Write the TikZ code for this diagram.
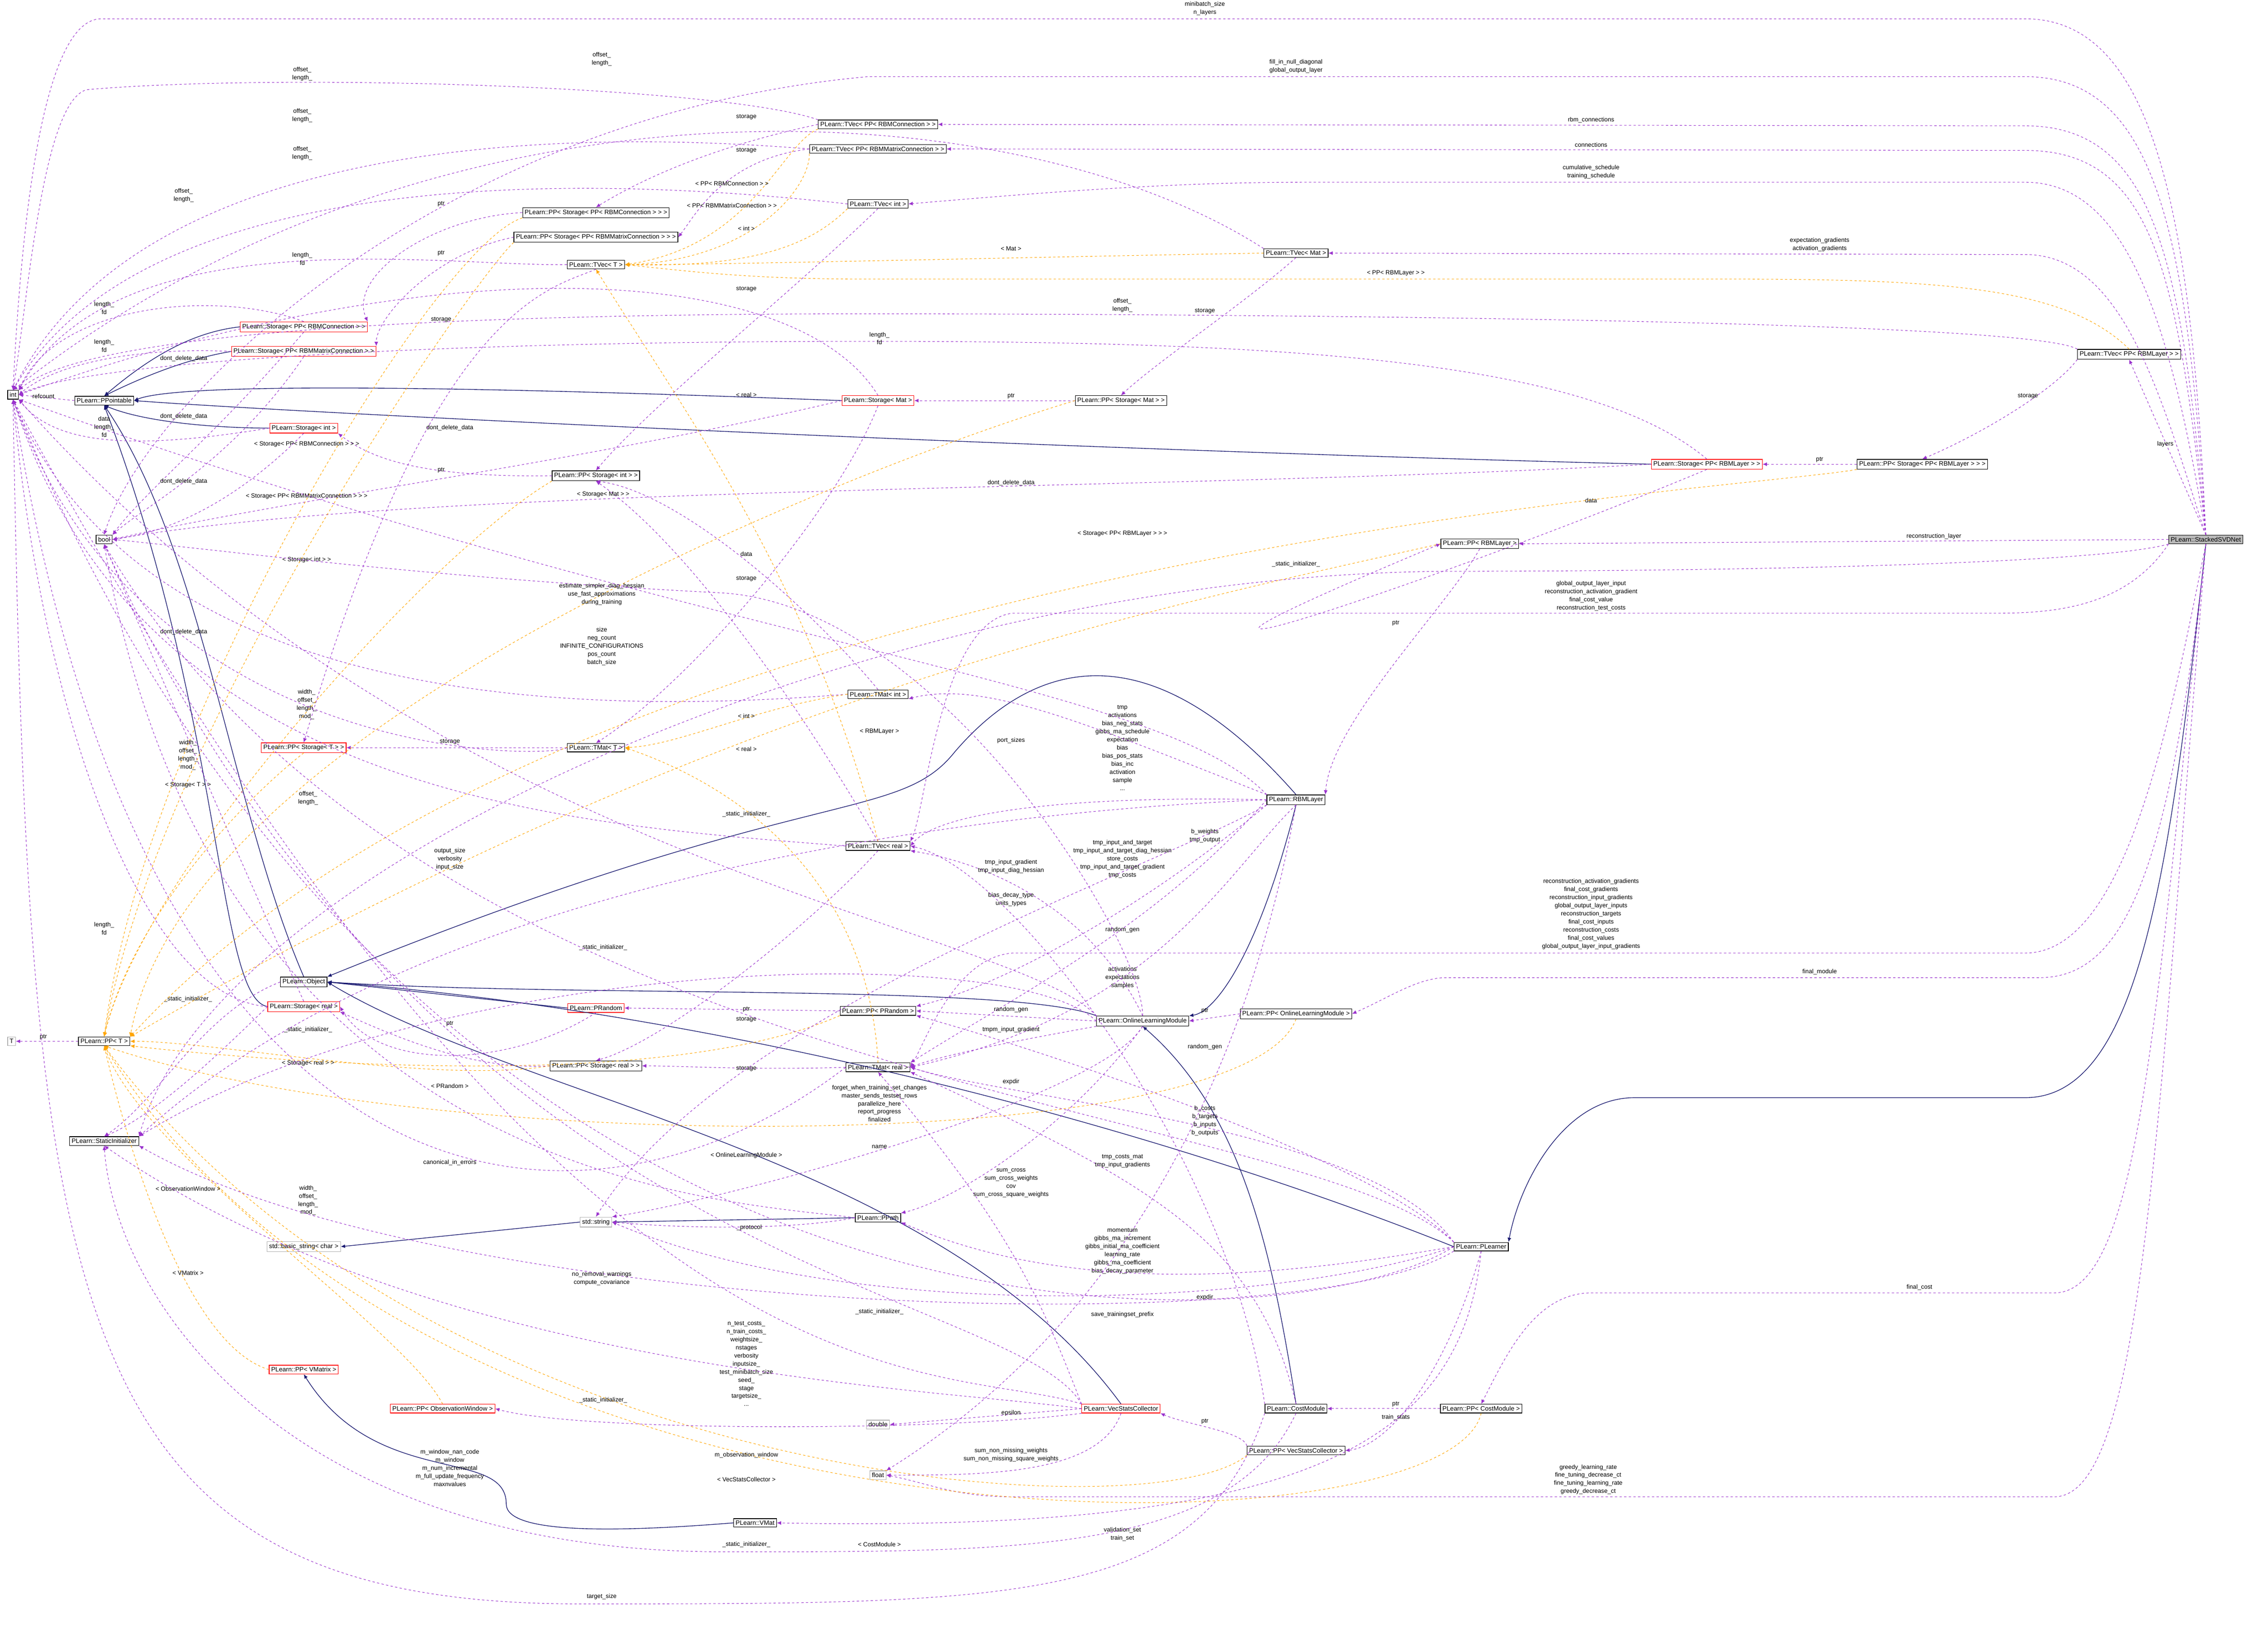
\documentclass[tikz,border=0pt]{standalone}
\usepackage{fontspec}
\setmainfont{Liberation Sans}
\usetikzlibrary{arrows.meta}
\definecolor{usecol}{HTML}{9A32CD}
\definecolor{inhcol}{HTML}{191970}
\definecolor{tplcol}{HTML}{FFA500}
\tikzset{
  cls/.style={draw=black, fill=white, inner sep=1.4pt, font=\fontsize{4.4}{5}\selectfont},
  redcls/.style={cls, draw=red},
  extcls/.style={cls, draw=gray!60},
  maincls/.style={cls, fill=gray!55},
  use/.style={usecol, dash pattern=on 1.6pt off 1.6pt, line width=0.35pt, -{Latex[length=3pt,width=2.6pt]}},
  inh/.style={inhcol, line width=0.45pt, -{Latex[length=3pt,width=2.6pt]}},
  tpl/.style={tplcol, dash pattern=on 1.6pt off 1.6pt, line width=0.35pt, -{Latex[length=3pt,width=2.6pt]}},
  lbl/.style={text=black, font=\fontsize{4.2}{5.6}\selectfont, align=center, inner sep=0.5pt}
}
\begin{document}
\begin{tikzpicture}[x=1pt, y=-1pt]
\useasboundingbox (0,0) rectangle (1568,1127);

%%%%%%%%%%%%%%%%%%%%%%%%%%%%%%%% classes
\node[cls] (int) at (9,273) {int};
\node[cls] (ppointable) at (72,277) {PLearn::PPointable};
\node[cls] (bool) at (72,373) {bool};
\node[extcls] (T) at (8,720) {T};
\node[cls] (ppT) at (72,720) {PLearn::PP< T >};
\node[cls] (statinit) at (72,789) {PLearn::StaticInitializer};
\node[cls] (object) at (210,679) {PLearn::Object};
\node[redcls] (storreal) at (210,696) {PLearn::Storage< real >};
\node[redcls] (prandom) at (412,697) {PLearn::PRandom};
\node[cls] (ppprandom) at (607,699) {PLearn::PP< PRandom >};
\node[cls] (olm) at (790,706) {PLearn::OnlineLearningModule};
\node[cls] (ppolm) at (896,701) {PLearn::PP< OnlineLearningModule >};
\node[cls] (ppstorreal) at (412,737) {PLearn::PP< Storage< real > >};
\node[cls] (tmatreal) at (607,738) {PLearn::TMat< real >};
\node[cls] (tvecreal) at (607,585) {PLearn::TVec< real >};
\node[cls] (tmatint) at (607,480) {PLearn::TMat< int >};
\node[cls] (rbmlayer) at (896,553) {PLearn::RBMLayer};
\node[cls] (tmatT) at (412,517) {PLearn::TMat< T >};
\node[redcls] (ppstorT) at (210,517) {PLearn::PP< Storage< T > >};
\node[redcls] (storint) at (210,296) {PLearn::Storage< int >};
\node[redcls] (storrbmc) at (210,226) {PLearn::Storage< PP< RBMConnection > >};
\node[redcls] (storrbmmc) at (210,243) {PLearn::Storage< PP< RBMMatrixConnection > >};
\node[cls] (tvecT) at (412,183) {PLearn::TVec< T >};
\node[cls] (ppstorrbmc) at (412,147) {PLearn::PP< Storage< PP< RBMConnection > > >};
\node[cls] (ppstorrbmmc) at (412,164) {PLearn::PP< Storage< PP< RBMMatrixConnection > > >};
\node[cls] (tvecrbmc) at (607,86) {PLearn::TVec< PP< RBMConnection > >};
\node[cls] (tvecrbmmc) at (607,103) {PLearn::TVec< PP< RBMMatrixConnection > >};
\node[cls] (tvecint) at (607,141) {PLearn::TVec< int >};
\node[cls] (ppstorint) at (412,329) {PLearn::PP< Storage< int > >};
\node[redcls] (stormat) at (607,277) {PLearn::Storage< Mat >};
\node[cls] (ppstormat) at (775,277) {PLearn::PP< Storage< Mat > >};
\node[cls] (tvecmat) at (896,175) {PLearn::TVec< Mat >};
\node[cls] (tvecrbml) at (1472,245) {PLearn::TVec< PP< RBMLayer > >};
\node[redcls] (storrbml) at (1180,321) {PLearn::Storage< PP< RBMLayer > >};
\node[cls] (ppstorrbml) at (1329,321) {PLearn::PP< Storage< PP< RBMLayer > > >};
\node[cls] (pprbml) at (1023,376) {PLearn::PP< RBMLayer >};
\node[maincls] (ssvd) at (1525,373) {PLearn::StackedSVDNet};
\node[cls] (plearner) at (1024,862) {PLearn::PLearner};
\node[cls] (costmod) at (896,974) {PLearn::CostModule};
\node[cls] (ppcost) at (1024,974) {PLearn::PP< CostModule >};
\node[cls] (ppvsc) at (896,1003) {PLearn::PP< VecStatsCollector >};
\node[redcls] (vsc) at (775,974) {PLearn::VecStatsCollector};
\node[extcls] (double) at (607,985) {double};
\node[extcls] (float) at (607,1020) {float};
\node[cls] (ppath) at (607,842) {PLearn::PPath};
\node[extcls] (string) at (412,845) {std::string};
\node[extcls] (bstring) at (210,862) {std::basic\_string< char >};
\node[redcls] (ppvmat) at (210,947) {PLearn::PP< VMatrix >};
\node[redcls] (ppobswin) at (306,974) {PLearn::PP< ObservationWindow >};
\node[cls] (vmat) at (522,1053) {PLearn::VMat};

%%%%%%%%%%%%%%%%%%%%%%%%%%%%%%%% inheritance
\draw[inh] (storrbmc.west) .. controls (130,230) and (100,250) .. (ppointable.north);
\draw[inh] (storrbmmc.west) .. controls (130,248) and (100,260) .. (ppointable.north);
\draw[inh] (storint.west) .. controls (150,296) and (100,292) .. (ppointable.south);
\draw[inh] (stormat.west) .. controls (400,270) and (130,262) .. (ppointable.east);
\draw[inh] (storrbml.west) .. controls (700,310) and (200,285) .. (ppointable.east);
\draw[inh] (object.north) .. controls (160,560) and (140,380) .. (ppointable.south);
\draw[inh] (storreal.west) .. controls (150,690) and (155,500) .. (ppointable.south);
\draw[inh] (prandom.west) -- (object.east);
\draw[inh] (olm.north west) .. controls (700,680) and (400,690) .. (object.east);
\draw[inh] (plearner.west) .. controls (800,780) and (500,700) .. (object.east);
\draw[inh] (vsc.north) .. controls (650,800) and (360,760) .. (object.east);
\draw[inh] (rbmlayer.south) .. controls (870,660) and (840,700) .. (olm.north east);
\draw[inh] (costmod.north) .. controls (880,870) and (860,770) .. (olm.south);
\draw[inh] (ppath.west) -- (string.east);
\draw[inh] (string.west) -- (bstring.east);
\draw[inh] (vmat.west) .. controls (420,1060) and (350,1060) .. (350,1040) .. controls (350,1000) and (260,1030) .. (ppvmat.south);
\draw[inh] (ssvd.south) .. controls (1500,600) and (1480,759) .. (1400,759) -- (1130,759) .. controls (1080,759) and (1050,820) .. (plearner.north east);
\draw[inh] (rbmlayer.north) .. controls (800,440) and (720,450) .. (660,520) .. controls (620,570) and (560,540) .. (object.north east);

%%%%%%%%%%%%%%%%%%%%%%%%%%%%%%%% members of StackedSVDNet
\draw[use] (ssvd.north) .. controls (1515,150) and (1490,13) .. (1400,13) -- (70,13) .. controls (30,13) and (15,150) .. (int.north);
\node[lbl] at (833,6) {minibatch\_size\\n\_layers};
\draw[use] (ssvd.north) .. controls (1512,160) and (1490,53) .. (1400,53) -- (600,53) .. controls (300,80) and (100,280) .. (bool.north);
\node[lbl] at (896,46) {fill\_in\_null\_diagonal\\global\_output\_layer};
\draw[use] (ssvd.north) .. controls (1508,180) and (1490,87) .. (1400,87) -- (tvecrbmc.east);
\node[lbl] at (1100,83) {rbm\_connections};
\draw[use] (ssvd.north) .. controls (1505,190) and (1490,104) .. (1400,104) -- (tvecrbmmc.east);
\node[lbl] at (1100,100) {connections};
\draw[use] (ssvd.north) .. controls (1500,220) and (1470,126) .. (1400,126) -- (900,126) .. controls (800,126) and (700,135) .. (tvecint.east);
\node[lbl] at (1100,119) {cumulative\_schedule\\training\_schedule};
\draw[use] (ssvd.north) .. controls (1495,280) and (1470,176) .. (1400,176) -- (tvecmat.east);
\node[lbl] at (1258,169) {expectation\_gradients\\activation\_gradients};
\draw[use] (ssvd.north) -- (tvecrbml.south);
\node[lbl] at (1497,307) {layers};
\draw[use] (ssvd.west) -- (pprbml.east);
\node[lbl] at (1337,371) {reconstruction\_layer};
\draw[use] (ssvd.south west) .. controls (1470,420) and (1420,424) .. (1380,424) -- (700,424) .. controls (650,430) and (640,560) .. (tvecreal.north east);
\node[lbl] at (1100,412) {global\_output\_layer\_input\\reconstruction\_activation\_gradient\\final\_cost\_value\\reconstruction\_test\_costs};
\draw[use] (ssvd.south) .. controls (1500,500) and (1470,659) .. (1400,659) -- (700,659) .. controls (660,662) and (640,720) .. (tmatreal.east);
\node[lbl] at (1100,632) {reconstruction\_activation\_gradients\\final\_cost\_gradients\\reconstruction\_input\_gradients\\global\_output\_layer\_inputs\\reconstruction\_targets\\final\_cost\_inputs\\reconstruction\_costs\\final\_cost\_values\\global\_output\_layer\_input\_gradients};
\draw[use] (ssvd.south) .. controls (1500,600) and (1470,676) .. (1410,676) -- (1000,676) .. controls (980,676) and (960,690) .. (ppolm.east);
\node[lbl] at (1258,672) {final\_module};
\draw[use] (ssvd.south) .. controls (1490,700) and (1480,894) .. (1420,894) -- (1100,894) .. controls (1060,894) and (1040,940) .. (ppcost.north);
\node[lbl] at (1327,890) {final\_cost};
\draw[use] (ssvd.south) .. controls (1490,800) and (1480,1035) .. (1420,1035) -- (700,1035) .. controls (660,1035) and (640,1025) .. (float.east);
\node[lbl] at (1098,1023) {greedy\_learning\_rate\\fine\_tuning\_decrease\_ct\\fine\_tuning\_learning\_rate\\greedy\_decrease\_ct};
\draw[use] (ssvd.south west) .. controls (1450,390) and (1200,395) .. (1000,395) .. controls (600,398) and (150,600) .. (statinit.north east);
\node[lbl] at (896,390) {\_static\_initializer\_};

%%%%%%%%%%%%%%%%%%%%%%%%%%%%%%%% storage and vectors
\draw[use] (ppointable.west) -- (int.east);
\node[lbl] at (30,274) {refcount};
\draw[use] (storrbmc.north) .. controls (150,200) and (40,210) .. (int.north east);
\node[lbl] at (72,213) {length\_\\fd};
\draw[use] (storrbmmc.west) .. controls (100,240) and (40,250) .. (int.east);
\node[lbl] at (72,239) {length\_\\fd};
\draw[use] (storint.west) .. controls (100,310) and (40,310) .. (int.south east);
\node[lbl] at (72,295) {data\\length\_\\fd};
\draw[use] (storrbmc.south) .. controls (150,300) and (100,340) .. (bool.north east);
\node[lbl] at (127,248) {dont\_delete\_data};
\draw[use] (storrbmmc.south) .. controls (160,320) and (100,350) .. (bool.north east);
\node[lbl] at (127,288) {dont\_delete\_data};
\draw[use] (storint.south) .. controls (150,360) and (100,370) .. (bool.east);
\node[lbl] at (127,333) {dont\_delete\_data};
\draw[use] (stormat.west) .. controls (400,320) and (200,345) .. (bool.east);
\node[lbl] at (311,296) {dont\_delete\_data};
\draw[use] (storrbml.west) .. controls (800,340) and (300,335) .. (bool.east);
\node[lbl] at (699,334) {dont\_delete\_data};
\draw[use] (storreal.north) .. controls (150,560) and (100,440) .. (bool.south);
\node[lbl] at (127,437) {dont\_delete\_data};
\draw[use] (ppstorrbmc.west) .. controls (300,150) and (240,190) .. (storrbmc.north east);
\node[lbl] at (305,141) {ptr};
\draw[use] (ppstorrbmmc.west) .. controls (300,175) and (260,220) .. (storrbmmc.north east);
\node[lbl] at (305,175) {ptr};
\draw[use] (ppstorint.west) .. controls (300,330) and (260,320) .. (storint.south east);
\node[lbl] at (305,325) {ptr};
\draw[use] (ppstormat.west) -- (stormat.east);
\node[lbl] at (699,274) {ptr};
\draw[use] (ppstorrbml.west) -- (storrbml.east);
\node[lbl] at (1258,318) {ptr};
\draw[use] (ppstorreal.west) .. controls (330,740) and (280,720) .. (storreal.south east);
\node[lbl] at (311,708) {ptr};
\draw[use] (prandom.south) .. controls (350,740) and (260,740) .. (storreal.east);
\draw[use] (tmatT.west) -- (ppstorT.east);
\node[lbl] at (311,513) {storage};
\draw[use] (tvecrbmc.west) .. controls (500,100) and (450,120) .. (ppstorrbmc.north);
\node[lbl] at (516,81) {storage};
\draw[use] (tvecrbmmc.west) .. controls (500,110) and (480,150) .. (ppstorrbmmc.east);
\node[lbl] at (516,104) {storage};
\draw[use] (tvecint.south) .. controls (550,200) and (450,280) .. (ppstorint.north);
\node[lbl] at (516,200) {storage};
\draw[use] (tvecT.south) .. controls (380,200) and (300,210) .. (ppstorT.north);
\node[lbl] at (305,221) {storage};
\draw[use] (tvecmat.south) .. controls (860,210) and (800,250) .. (ppstormat.north);
\node[lbl] at (833,215) {storage};
\draw[use] (tvecrbml.south west) .. controls (1420,270) and (1370,300) .. (ppstorrbml.north);
\node[lbl] at (1402,274) {storage};
\draw[use] (tvecreal.north) .. controls (560,500) and (480,380) .. (ppstorint.south);
\node[lbl] at (516,400) {storage};
\draw[use] (tmatint.north) .. controls (560,420) and (470,340) .. (ppstorint.south);
\draw[use] (tmatreal.west) .. controls (520,740) and (470,737) .. (ppstorreal.east);
\node[lbl] at (516,739) {storage};
\draw[use] (tvecreal.south) .. controls (560,640) and (460,720) .. (ppstorreal.north);
\node[lbl] at (516,705) {storage};
\draw[use] (storrbml.south) .. controls (1000,400) and (700,500) .. (pprbml.west);
\node[lbl] at (1100,346) {data};
\draw[use] (stormat.south) .. controls (580,350) and (480,470) .. (tmatT.north);
\node[lbl] at (516,383) {data};
\node[lbl] at (516,698) {ptr};

\draw[use] (tvecrbmc.north west) .. controls (500,60) and (200,50) .. (60,62) .. controls (30,70) and (20,200) .. (int.north);
\node[lbl] at (209,51) {offset\_\\length\_};
\draw[use] (tvecrbmmc.west) .. controls (400,90) and (100,90) .. (int.north);
\node[lbl] at (209,80) {offset\_\\length\_};
\draw[use] (tvecint.west) .. controls (400,120) and (100,115) .. (int.north);
\node[lbl] at (209,106) {offset\_\\length\_};
\draw[use] (tvecT.west) .. controls (300,184) and (80,150) .. (int.north east);
\node[lbl] at (127,135) {offset\_\\length\_};
\draw[use] (tvecmat.north west) .. controls (700,60) and (300,40) .. (int.north);
\node[lbl] at (416,41) {offset\_\\length\_};
\draw[use] (tvecrbml.north west) .. controls (1400,220) and (800,217) .. (600,217) .. controls (300,217) and (60,230) .. (int.north east);
\node[lbl] at (776,211) {offset\_\\length\_};
\draw[use] (storrbml.north) .. controls (1100,250) and (900,236) .. (600,236) .. controls (300,236) and (60,250) .. (int.east);
\node[lbl] at (608,234) {length\_\\fd};
\draw[use] (stormat.north) .. controls (550,180) and (300,170) .. (int.east);
\node[lbl] at (209,179) {length\_\\fd};
\draw[use] (tmatint.west) .. controls (400,495) and (100,490) .. (int.south);
\node[lbl] at (212,487) {width\_\\offset\_\\length\_\\mod\_};
\draw[use] (tmatT.west) .. controls (380,525) and (100,530) .. (int.south);
\node[lbl] at (130,522) {width\_\\offset\_\\length\_\\mod\_};
\draw[use] (tvecreal.west) .. controls (400,570) and (100,555) .. (int.south);
\node[lbl] at (213,552) {offset\_\\length\_};
\draw[use] (storreal.west) .. controls (100,690) and (30,500) .. (int.south);
\node[lbl] at (72,642) {length\_\\fd};
\draw[use] (tmatreal.west) .. controls (400,880) and (100,850) .. (int.south);
\node[lbl] at (213,830) {width\_\\offset\_\\length\_\\mod\_};
\draw[use] (ppT.west) -- (T.east);
\node[lbl] at (30,717) {ptr};
\draw[use] (object.west) .. controls (140,700) and (110,760) .. (statinit.north);
\node[lbl] at (130,691) {\_static\_initializer\_};
\draw[use] (storreal.west) .. controls (160,720) and (110,770) .. (statinit.north);
\node[lbl] at (213,712) {\_static\_initializer\_};

%%%%%%%%%%%%%%%%%%%%%%%%%%%%%%%% templates
\draw[tpl] (tvecrbmc.south west) .. controls (540,100) and (520,170) .. (tvecT.east);
\node[lbl] at (506,127) {< PP< RBMConnection > >};
\draw[tpl] (tvecrbmmc.south west) .. controls (560,130) and (520,180) .. (tvecT.east);
\node[lbl] at (506,142) {< PP< RBMMatrixConnection > >};
\draw[tpl] (tvecint.south west) .. controls (560,170) and (520,185) .. (tvecT.east);
\node[lbl] at (516,158) {< int >};
\draw[tpl] (tvecmat.west) .. controls (700,178) and (500,183) .. (tvecT.east);
\node[lbl] at (699,172) {< Mat >};
\draw[tpl] (tvecrbml.north) .. controls (1430,200) and (1350,193) .. (1200,193) -- (600,193) .. controls (520,193) and (480,188) .. (tvecT.east);
\node[lbl] at (965,189) {< PP< RBMLayer > >};
\draw[tpl] (tvecreal.north) .. controls (560,400) and (470,280) .. (tvecT.south);
\node[lbl] at (516,273) {< real >};
\draw[tpl] (tmatint.west) .. controls (520,490) and (470,515) .. (tmatT.east);
\node[lbl] at (516,495) {< int >};
\draw[tpl] (tmatreal.north) .. controls (600,600) and (500,540) .. (tmatT.east);
\node[lbl] at (516,518) {< real >};
\draw[tpl] (ppstorrbmc.south west) .. controls (300,170) and (100,500) .. (ppT.north);
\node[lbl] at (212,307) {< Storage< PP< RBMConnection > > >};
\draw[tpl] (ppstorrbmmc.south west) .. controls (330,190) and (110,500) .. (ppT.north);
\node[lbl] at (212,343) {< Storage< PP< RBMMatrixConnection > > >};
\draw[tpl] (ppstorint.south west) .. controls (300,380) and (100,600) .. (ppT.north);
\node[lbl] at (212,387) {< Storage< int > >};
\draw[tpl] (ppstormat.west) .. controls (600,320) and (130,500) .. (ppT.north east);
\node[lbl] at (417,342) {< Storage< Mat > >};
\draw[tpl] (ppstorrbml.south west) .. controls (1200,340) and (400,380) .. (ppT.north east);
\node[lbl] at (776,369) {< Storage< PP< RBMLayer > > >};
\draw[tpl] (ppstorT.south) .. controls (160,560) and (90,640) .. (ppT.north);
\node[lbl] at (130,543) {< Storage< T > >};
\draw[tpl] (ppstorreal.west) .. controls (300,750) and (150,720) .. (ppT.east);
\node[lbl] at (213,735) {< Storage< real > >};
\draw[tpl] (ppprandom.south west) .. controls (450,760) and (150,730) .. (ppT.south east);
\node[lbl] at (311,751) {< PRandom >};
\draw[tpl] (ppolm.south) .. controls (860,800) and (300,800) .. (ppT.south);
\node[lbl] at (516,799) {< OnlineLearningModule >};
\draw[tpl] (pprbml.west) .. controls (800,420) and (500,480) .. (ppT.north east);
\node[lbl] at (608,506) {< RBMLayer >};
\draw[tpl] (ppobswin.north) .. controls (280,920) and (100,800) .. (ppT.south);
\node[lbl] at (130,822) {< ObservationWindow >};
\draw[tpl] (ppvmat.west) .. controls (130,930) and (90,800) .. (ppT.south);
\node[lbl] at (130,880) {< VMatrix >};
\draw[tpl] (ppvsc.south west) .. controls (800,1060) and (300,1030) .. (ppT.south);
\node[lbl] at (516,1023) {< VecStatsCollector >};
\draw[tpl] (ppcost.south) .. controls (1000,1080) and (300,1090) .. (ppT.south);
\node[lbl] at (608,1068) {< CostModule >};

%%%%%%%%%%%%%%%%%%%%%%%%%%%%%%%% pointers to classes
\draw[use] (ppprandom.west) -- (prandom.east);
\draw[use] (ppolm.west) -- (olm.east);
\node[lbl] at (833,699) {ptr};
\draw[use] (pprbml.south) .. controls (1000,420) and (920,500) .. (rbmlayer.north east);
\node[lbl] at (965,431) {ptr};
\draw[use] (ppcost.west) -- (costmod.east);
\node[lbl] at (965,971) {ptr};
\draw[use] (ppvsc.north west) .. controls (860,990) and (820,985) .. (vsc.south east);
\node[lbl] at (833,983) {ptr};

%%%%%%%%%%%%%%%%%%%%%%%%%%%%%%%% RBMLayer and OnlineLearningModule
\draw[use] (rbmlayer.west) .. controls (750,550) and (650,560) .. (tvecreal.east);
\node[lbl] at (776,517) {tmp\\activations\\bias\_neg\_stats\\gibbs\_ma\_schedule\\expectation\\bias\\bias\_pos\_stats\\bias\_inc\\activation\\sample\\...};
\draw[use] (rbmlayer.south) .. controls (850,600) and (800,700) .. (tmatreal.east);
\node[lbl] at (833,578) {b\_weights\\tmp\_output};
\draw[use] (rbmlayer.north west) .. controls (750,500) and (680,470) .. (tmatint.south east);
\node[lbl] at (699,512) {port\_sizes};
\draw[use] (rbmlayer.south west) .. controls (800,600) and (500,700) .. (string.north);
\node[lbl] at (699,622) {bias\_decay\_type\\units\_types};
\draw[use] (rbmlayer.south) .. controls (870,700) and (800,900) .. (float.north east);
\node[lbl] at (776,865) {momentum\\gibbs\_ma\_increment\\gibbs\_initial\_ma\_coefficient\\learning\_rate\\gibbs\_ma\_coefficient\\bias\_decay\_parameter};
\draw[use] (rbmlayer.south west) .. controls (800,620) and (700,680) .. (ppprandom.north east);
\node[lbl] at (776,643) {random\_gen};
\draw[use] (rbmlayer.west) .. controls (800,640) and (700,690) .. (tmatreal.north east);
\node[lbl] at (776,676) {activations\\expectations\\samples};
\draw[use] (costmod.north west) .. controls (850,800) and (700,600) .. (tvecreal.east);
\node[lbl] at (776,594) {tmp\_input\_and\_target\\tmp\_input\_and\_target\_diag\_hessian\\store\_costs\\tmp\_input\_and\_target\_gradient\\tmp\_costs};
\draw[use] (olm.west) -- (ppprandom.east);
\node[lbl] at (699,698) {random\_gen};
\draw[use] (olm.north) .. controls (760,640) and (700,600) .. (tvecreal.south east);
\node[lbl] at (699,599) {tmp\_input\_gradient\\tmp\_input\_diag\_hessian};
\draw[use] (olm.south west) .. controls (700,720) and (650,730) .. (tmatreal.east);
\node[lbl] at (699,712) {tmpm\_input\_gradient};
\draw[use] (olm.north) .. controls (790,650) and (650,420) .. (500,410) .. controls (300,400) and (150,380) .. (bool.east);
\node[lbl] at (416,411) {estimate\_simpler\_diag\_hessian\\use\_fast\_approximations\\during\_training};
\draw[use] (rbmlayer.north west) .. controls (800,470) and (500,450) .. (int.south east);
\node[lbl] at (416,447) {size\\neg\_count\\INFINITE\_CONFIGURATIONS\\pos\_count\\batch\_size};
\draw[use] (olm.north west) .. controls (700,640) and (300,600) .. (int.south east);
\node[lbl] at (311,594) {output\_size\\verbosity\\input\_size};
\draw[use] (olm.south) .. controls (760,760) and (500,830) .. (string.north east);
\node[lbl] at (608,793) {name};
\draw[use] (olm.south) .. controls (740,780) and (660,830) .. (ppath.north east);
\node[lbl] at (699,748) {expdir};
\draw[use] (olm.west) .. controls (700,650) and (300,660) .. (statinit.north east);
\node[lbl] at (417,655) {\_static\_initializer\_};
\draw[use] (rbmlayer.west) .. controls (700,560) and (300,600) .. (statinit.north east);
\node[lbl] at (516,563) {\_static\_initializer\_};
\draw[use] (costmod.north) .. controls (870,860) and (800,820) .. (tmatreal.south east);
\node[lbl] at (776,803) {tmp\_costs\_mat\\tmp\_input\_gradients};

%%%%%%%%%%%%%%%%%%%%%%%%%%%%%%%% PLearner
\draw[use] (plearner.west) .. controls (900,880) and (750,900) .. (ppath.south east);
\node[lbl] at (833,897) {expdir};
\draw[use] (plearner.north west) .. controls (950,800) and (700,720) .. (ppprandom.south east);
\node[lbl] at (833,724) {random\_gen};
\draw[use] (plearner.north west) .. controls (950,780) and (700,760) .. (tmatreal.east);
\node[lbl] at (833,775) {b\_costs\\b\_targets\\b\_inputs\\b\_outputs};
\draw[use] (plearner.south) .. controls (1000,950) and (960,1000) .. (ppvsc.east);
\node[lbl] at (965,980) {train\_stats};
\draw[use] (plearner.south) .. controls (1010,1000) and (900,1060) .. (vmat.east);
\node[lbl] at (776,1061) {validation\_set\\train\_set};
\draw[use] (plearner.west) .. controls (900,900) and (600,920) .. (string.east);
\node[lbl] at (776,909) {save\_trainingset\_prefix};
\draw[use] (plearner.north west) .. controls (900,760) and (300,760) .. (bool.south);
\node[lbl] at (608,763) {forget\_when\_training\_set\_changes\\master\_sends\_testset\_rows\\parallelize\_here\\report\_progress\\finalized};
\draw[use] (plearner.west) .. controls (900,930) and (300,980) .. (int.south);
\node[lbl] at (516,943) {n\_test\_costs\_\\n\_train\_costs\_\\weightsize\_\\nstages\\verbosity\\inputsize\_\\test\_minibatch\_size\\seed\_\\stage\\targetsize\_\\...};
\draw[use] (plearner.south west) .. controls (900,930) and (300,910) .. (statinit.south east);
\node[lbl] at (608,907) {\_static\_initializer\_};

%%%%%%%%%%%%%%%%%%%%%%%%%%%%%%%% VecStatsCollector and PPath
\draw[use] (vsc.west) -- (double.east);
\node[lbl] at (699,977) {epsilon};
\draw[use] (vsc.south) .. controls (760,1020) and (680,1020) .. (float.east);
\node[lbl] at (699,1006) {sum\_non\_missing\_weights\\sum\_non\_missing\_square\_weights};
\draw[use] (vsc.north west) .. controls (720,900) and (700,850) .. (tmatreal.south);
\node[lbl] at (699,818) {sum\_cross\\sum\_cross\_weights\\cov\\sum\_cross\_square\_weights};
\draw[use] (vsc.north west) .. controls (700,890) and (300,880) .. (bool.south);
\node[lbl] at (416,884) {no\_removal\_warnings\\compute\_covariance};
\draw[use] (vsc.south west) .. controls (650,990) and (400,990) .. (ppobswin.east);
\node[lbl] at (516,1006) {m\_observation\_window};
\draw[use] (vsc.north west) .. controls (650,940) and (400,1000) .. (int.south);
\node[lbl] at (311,1015) {m\_window\_nan\_code\\m\_window\\m\_num\_incremental\\m\_full\_update\_frequency\\maxnvalues};
\draw[use] (vsc.west) .. controls (650,960) and (300,950) .. (statinit.south);
\node[lbl] at (417,968) {\_static\_initializer\_};
\draw[use] (ppath.west) .. controls (550,850) and (480,850) .. (string.east);
\node[lbl] at (518,849) {\_protocol};
\draw[use] (ppath.west) .. controls (500,830) and (150,820) .. (bool.south);
\node[lbl] at (311,804) {canonical\_in\_errors};
\draw[use] (costmod.south) .. controls (850,1075) and (700,1073) .. (500,1073) .. controls (200,1073) and (80,900) .. (statinit.south);
\node[lbl] at (516,1068) {\_static\_initializer\_};
\draw[use] (costmod.south west) .. controls (830,1110) and (700,1109) .. (400,1109) .. controls (40,1109) and (20,900) .. (int.south);
\node[lbl] at (416,1104) {target\_size};
\end{tikzpicture}
\end{document}
